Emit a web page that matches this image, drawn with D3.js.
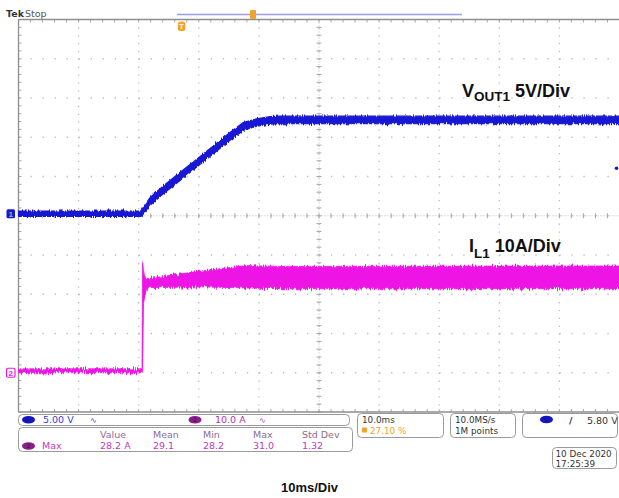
<!DOCTYPE html>
<html><head><meta charset="utf-8">
<script src="https://cdn.jsdelivr.net/npm/d3@7"></script>
<style>
html,body{margin:0;padding:0;background:#fff;}
svg{display:block;font-family:"Liberation Sans",Arial,sans-serif;}
</style></head><body>
<svg id="c" width="619" height="498"></svg>
<script>
// ---------------- data ----------------
const timeDomainMs = [0, 100];          // 10 ms/div x 10 div
const horizDivs = 10;
const vertDivs = 10;
const ch1ScaleVperDiv = 5;              // VOUT1 5V/Div
const ch2ScaleAperDiv = 10;             // IL1 10A/Div
const ch1GroundDiv = 5.05;              // ground marker position (div from bottom)
const ch2GroundDiv = 1.0;
const triggerLevelV = 5.80;
const triggerPosPct = 27.10;

// VOUT1 trace: time (ms), centre value (V), half width of noise band (V)
const voutTimeMs = [0, 20.3, 20.5, 21.88, 24.09, 26.87, 29.65, 32.41, 35.19, 37.4, 39.63, 41.85, 43.51, 100];
const voutVolts  = [0, 0, 0.13, 1.57, 3.06, 4.75, 6.46, 8.15, 9.85, 11.12, 11.63, 11.89, 11.95, 11.95];
const voutBandV  = [0.34, 0.34, 0.4, 0.5, 0.5, 0.5, 0.5, 0.5, 0.5, 0.5, 0.48, 0.48, 0.48, 0.48];

// IL1 trace: time (ms), envelope max / min (A)
const ilTimeMs = [0, 20.55, 20.65, 20.8, 21.0, 21.55, 23.97, 29.7, 35.19, 38.02, 43.5, 100];
const ilMaxA   = [1.0, 1.0, 27.8, 26.0, 24.2, 24.0, 24.5, 25.8, 26.8, 27.3, 27.1, 27.2];
const ilMinA   = [0, 0, 0.3, 17.6, 19.5, 21.7, 21.7, 21.9, 21.7, 21.6, 21.4, 21.4];

// text content
const traceLabels = [
  {main: "V", sub: "OUT1", rest: " 5V/Div"},
  {main: "I", sub: "L1", rest: " 10A/Div"}
];
const timeLabel = "10ms/Div";
const ch1Setting = "5.00 V";
const ch2Setting = "10.0 A";
const measName = "Max";
const measHeaders = ["Value", "Mean", "Min", "Max", "Std Dev"];
const measValues  = ["28.2 A", "29.1", "28.2", "31.0", "1.32"];
const timebase = ["10.0ms", "27.10 %"];
const acquisition = ["10.0MS/s", "1M points"];
const dateLines = ["10 Dec 2020", "17:25:39"];

// ---------------- layout ----------------
const L = 18.5, R = 619.5, T = 19.5, B = 412;
const blue = "#1717d4", pink = "#ee14e6", orange = "#f2a32a";
const tekFont = "DejaVu Sans, Verdana, sans-serif";
const svg = d3.select("#c");

const x = d3.scaleLinear().domain(timeDomainMs).range([L, R]);
const yDiv = d3.scaleLinear().domain([0, vertDivs]).range([B, T]);
const xDiv = d3.scaleLinear().domain([0, horizDivs]).range([L, R]);
const y1 = v => yDiv(ch1GroundDiv + v / ch1ScaleVperDiv);
const y2 = a => yDiv(ch2GroundDiv + a / ch2ScaleAperDiv);
const divW = (R - L) / horizDivs, divH = (B - T) / vertDivs;

// noise filter (vertical jitter only)
const defs = svg.append("defs");
function noiseFilter(id, scale, seed) {
  const f = defs.append("filter").attr("id", id)
    .attr("x", "-1%").attr("y", "-30%").attr("width", "102%").attr("height", "160%")
    .attr("color-interpolation-filters", "sRGB");
  f.append("feTurbulence").attr("type", "fractalNoise").attr("baseFrequency", "0.9 0.06")
    .attr("numOctaves", 2).attr("seed", seed).attr("result", "t");
  f.append("feColorMatrix").attr("in", "t").attr("type", "matrix")
    .attr("values", "0 0 0 0 0.5  0 1 0 0 0  0 0 0 0 0  0 0 0 0 1").attr("result", "m");
  f.append("feDisplacementMap").attr("in", "SourceGraphic").attr("in2", "m")
    .attr("scale", scale).attr("xChannelSelector", "R").attr("yChannelSelector", "G");
}
noiseFilter("noiseB", 5, 4);
noiseFilter("noiseP", 7, 9);

// ---------------- graticule ----------------
const g = svg.append("g");
const dotCol = "#bdbdbd";
d3.range(1, horizDivs).forEach(i => {
  g.append("line").attr("x1", xDiv(i)).attr("x2", xDiv(i)).attr("y1", T).attr("y2", B)
    .attr("stroke", dotCol).attr("stroke-width", 1.3)
    .attr("stroke-dasharray", `1.3 ${divH / 5 - 1.3}`);
});
d3.range(1, vertDivs).forEach(j => {
  g.append("line").attr("x1", L).attr("x2", R).attr("y1", yDiv(j)).attr("y2", yDiv(j))
    .attr("stroke", dotCol).attr("stroke-width", 1.3)
    .attr("stroke-dasharray", `1.3 ${divW / 5 - 1.3}`);
});
// centre axes with minor ticks
const tickCol = "#a8a8a8";
d3.range(0, vertDivs * 5 + 1).forEach(k => {
  const yy = T + k * divH / 5;
  g.append("line").attr("x1", xDiv(5) - 2.5).attr("x2", xDiv(5) + 2.5).attr("y1", yy).attr("y2", yy)
    .attr("stroke", tickCol).attr("stroke-width", 1);
  g.append("line").attr("x1", L).attr("x2", L + 3).attr("y1", yy).attr("y2", yy)
    .attr("stroke", tickCol).attr("stroke-width", 1);
});
d3.range(0, horizDivs * 5 + 1).forEach(k => {
  const xx = L + k * divW / 5;
  g.append("line").attr("x1", xx).attr("x2", xx).attr("y1", yDiv(5) - 2.5).attr("y2", yDiv(5) + 2.5)
    .attr("stroke", tickCol).attr("stroke-width", 1);
  g.append("line").attr("x1", xx).attr("x2", xx).attr("y1", T).attr("y2", T + 3)
    .attr("stroke", tickCol).attr("stroke-width", 1);
  g.append("line").attr("x1", xx).attr("x2", xx).attr("y1", B - 3).attr("y2", B)
    .attr("stroke", tickCol).attr("stroke-width", 1);
});
g.append("line").attr("x1", xDiv(5)).attr("x2", xDiv(5)).attr("y1", T).attr("y2", B)
  .attr("stroke", tickCol).attr("stroke-width", 0.8).attr("stroke-dasharray", "1 2");
g.append("line").attr("x1", L).attr("x2", R).attr("y1", yDiv(5)).attr("y2", yDiv(5))
  .attr("stroke", tickCol).attr("stroke-width", 0.8).attr("stroke-dasharray", "1 2");
// border
const bCol = "#8e8e8e";
g.append("line").attr("x1", L).attr("x2", L).attr("y1", T).attr("y2", B).attr("stroke", bCol).attr("stroke-width", 1.3);
g.append("line").attr("x1", L).attr("x2", R).attr("y1", T).attr("y2", T).attr("stroke", bCol).attr("stroke-width", 1.3);
g.append("line").attr("x1", L).attr("x2", R).attr("y1", B).attr("y2", B).attr("stroke", bCol).attr("stroke-width", 1.3);

// ---------------- traces ----------------
const voutData = voutTimeMs.map((t, i) => ({t, v: voutVolts[i], w: voutBandV[i]}));
const ilData = ilTimeMs.map((t, i) => ({t, hi: ilMaxA[i], lo: ilMinA[i]}));

svg.append("path").datum(ilData)
  .attr("d", d3.area().x(d => x(d.t)).y0(d => y2(d.lo)).y1(d => y2(d.hi)))
  .attr("fill", pink).attr("stroke", pink).attr("stroke-width", 0.8)
  .attr("filter", "url(#noiseP)");

svg.append("path").datum(voutData)
  .attr("d", d3.area().x(d => x(d.t)).y0(d => y1(d.v - d.w)).y1(d => y1(d.v + d.w)))
  .attr("fill", blue).attr("stroke", blue).attr("stroke-width", 1.2)
  .attr("filter", "url(#noiseB)");

// trigger level marker (right edge)
svg.append("circle").attr("cx", R - 3).attr("cy", y1(triggerLevelV)).attr("r", 1.8).attr("fill", blue);

// channel ground markers
svg.append("rect").attr("x", 6.5).attr("y", y1(0) - 4.5).attr("width", 8.5).attr("height", 9)
  .attr("rx", 1.5).attr("fill", blue);
svg.append("text").attr("x", 10.8).attr("y", y1(0) + 3).attr("text-anchor", "middle")
  .attr("font-size", 8).attr("font-weight", "bold").attr("fill", "#aab").text("1");
svg.append("rect").attr("x", 6.5).attr("y", y2(0) - 4.5).attr("width", 8.5).attr("height", 9)
  .attr("rx", 1.5).attr("fill", "#fff").attr("stroke", pink).attr("stroke-width", 1.2);
svg.append("text").attr("x", 10.8).attr("y", y2(0) + 3).attr("text-anchor", "middle")
  .attr("font-size", 8).attr("font-weight", "bold").attr("fill", pink).text("2");

// ---------------- top status ----------------
const status = svg.append("text").attr("x", 6).attr("y", 17).attr("font-size", 9.5)
  .attr("font-family", tekFont).attr("fill", "#333");
status.append("tspan").attr("font-weight", "bold").text("Tek");
status.append("tspan").attr("dx", 1).attr("fill", "#555").text("Stop");
svg.append("line").attr("x1", 177).attr("x2", 462).attr("y1", 14.5).attr("y2", 14.5)
  .attr("stroke", "#9d9df0").attr("stroke-width", 1.6);
svg.append("rect").attr("x", 250).attr("y", 10).attr("width", 6).attr("height", 9).attr("rx", 1).attr("fill", orange);
const trigX = L + triggerPosPct / 100 * (R - L);
svg.append("rect").attr("x", trigX - 3.5).attr("y", 21.5).attr("width", 7.5).attr("height", 9.5)
  .attr("rx", 2.5).attr("fill", orange);
svg.append("text").attr("x", trigX + 0.3).attr("y", 29.3).attr("text-anchor", "middle")
  .attr("font-size", 7.5).attr("font-weight", "bold").attr("fill", "#fff").text("T");

// ---------------- trace labels ----------------
function subLabel(lbl, xx, yy, subDy) {
  const t = svg.append("text").attr("x", xx).attr("y", yy)
    .attr("font-weight", "bold").attr("fill", "#111");
  t.append("tspan").attr("font-size", 18).text(lbl.main);
  t.append("tspan").attr("font-size", 13.5).attr("dy", subDy).text(lbl.sub);
  t.append("tspan").attr("font-size", 18).attr("dy", -subDy).text(lbl.rest);
}
subLabel(traceLabels[0], 462, 97, 3.6);
subLabel(traceLabels[1], 469, 251.5, 6.5);

// ---------------- bottom info bar ----------------
const info = svg.append("g").attr("font-size", 9.5).attr("font-family", tekFont);
const boxStroke = "#9a9a9a";
function box(x0, y0, w, h) {
  info.append("rect").attr("x", x0).attr("y", y0).attr("width", w).attr("height", h).attr("rx", 4)
    .attr("fill", "#fff").attr("stroke", boxStroke).attr("stroke-width", 1);
}
function oval(cx, cy, col, label) {
  info.append("ellipse").attr("cx", cx).attr("cy", cy).attr("rx", 6.5).attr("ry", 3.8).attr("fill", col);
  info.append("text").attr("x", cx).attr("y", cy + 2.2).attr("text-anchor", "middle").attr("font-size", 6)
    .attr("fill", "#222").text(label);
}
const purple = "#8c1b8c", magText = "#bf3abf", headText = "#8f6a8f";
box(18.5, 414.5, 331, 11);
oval(28.5, 419.8, "#1414c8", "1");
info.append("text").attr("x", 43).attr("y", 423.3).attr("fill", "#3a3ad2").text(ch1Setting);
info.append("text").attr("x", 90).attr("y", 423.3).attr("font-size", 8).attr("fill", "#3a3ad2").text("∿");
oval(195, 419.8, purple, "2");
info.append("text").attr("x", 215).attr("y", 423.3).attr("fill", "#b034b0").text(ch2Setting);
info.append("text").attr("x", 259).attr("y", 423.3).attr("font-size", 8).attr("fill", "#b034b0").text("∿");

box(18.5, 427.5, 334, 24);
oval(28.5, 446, purple, "2");
info.append("text").attr("x", 42).attr("y", 449.3).attr("fill", magText).text(measName);
const colX = [100, 153, 203, 253, 302];
measHeaders.forEach((h, i) => info.append("text").attr("x", colX[i]).attr("y", 437.5).attr("fill", headText).text(h));
measValues.forEach((v, i) => info.append("text").attr("x", colX[i]).attr("y", 449.3).attr("fill", magText).text(v));

const small = 8.8;
box(357.5, 413.5, 86, 24);
info.append("text").attr("x", 362).attr("y", 423).attr("font-size", small).attr("fill", "#333").text(timebase[0]);
info.append("rect").attr("x", 362).attr("y", 427.5).attr("width", 5).attr("height", 5).attr("fill", orange);
info.append("text").attr("x", 370).attr("y", 433.5).attr("font-size", small).attr("fill", orange).text(timebase[1]);

box(450.5, 413.5, 65, 24);
info.append("text").attr("x", 455).attr("y", 423).attr("font-size", small).attr("fill", "#333").text(acquisition[0]);
info.append("text").attr("x", 455).attr("y", 433.5).attr("font-size", small).attr("fill", "#333").text(acquisition[1]);

box(522.5, 413.5, 95, 24);
oval(546.5, 419.5, "#1414c8", "1");
info.append("text").attr("x", 569).attr("y", 423.5).attr("font-weight", "bold").attr("fill", "#333").text("/");
info.append("text").attr("x", 587).attr("y", 423.5).attr("fill", "#333").text(triggerLevelV.toFixed(2) + " V");

box(552.5, 447.5, 64, 21);
info.append("text").attr("x", 555.5).attr("y", 457).attr("font-size", small).attr("fill", "#333").text(dateLines[0]);
info.append("text").attr("x", 555.5).attr("y", 467).attr("font-size", small).attr("fill", "#333").text(dateLines[1]);

// ---------------- time label ----------------
svg.append("text").attr("x", 309.5).attr("y", 492).attr("text-anchor", "middle")
  .attr("font-size", 13).attr("font-weight", "bold").attr("fill", "#111").text(timeLabel);
</script>
</body></html>
